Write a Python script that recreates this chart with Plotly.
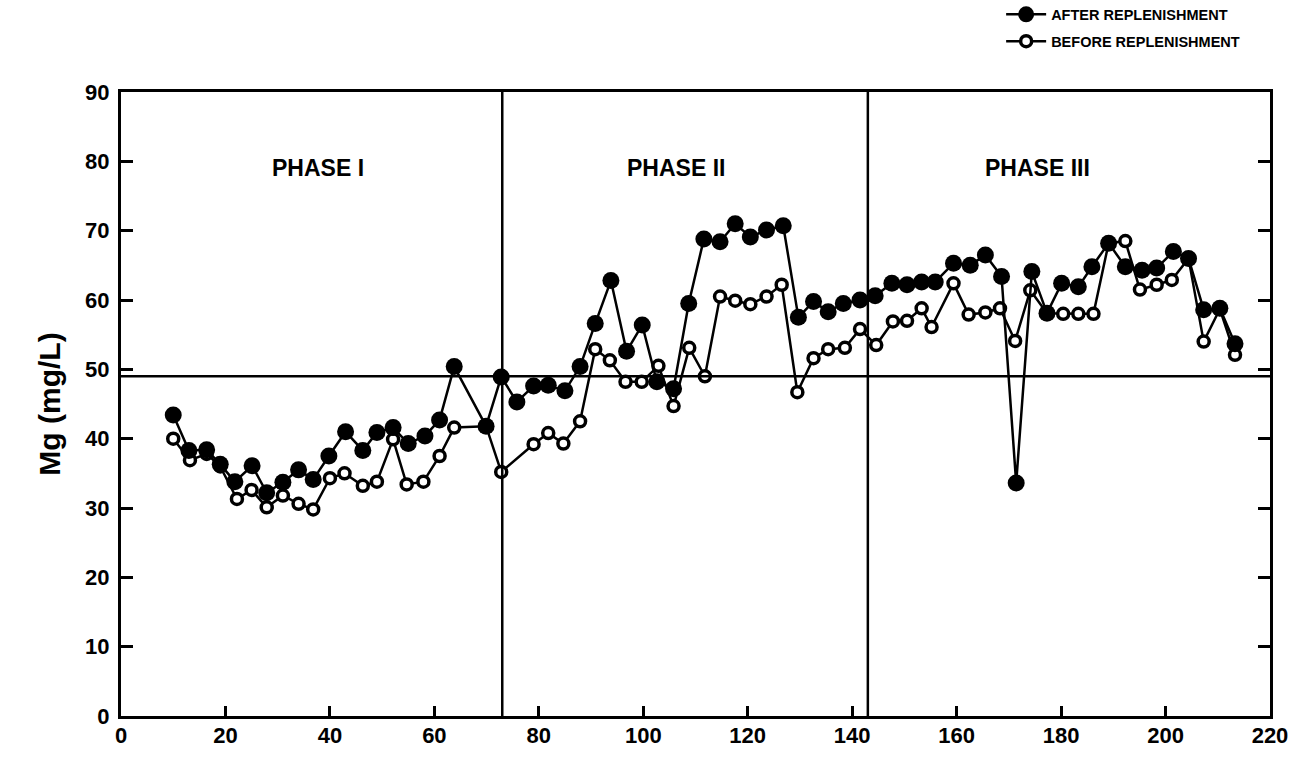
import plotly.graph_objects as go

# ---- data ----
after_x = [10, 13, 16.4, 19, 21.8, 25.1, 27.9, 31, 34, 36.8, 39.8, 43, 46.3, 49, 52.1, 55, 58.2, 61, 63.8,
           69.9, 72.8, 75.8, 79, 81.8, 85, 87.9, 90.8, 93.8, 96.8, 99.8, 102.6, 105.8, 108.7, 111.6, 114.7,
           117.6, 120.5, 123.6, 126.8, 129.7, 132.6, 135.4, 138.3, 141.5, 144.4, 147.6, 150.5, 153.3, 155.9,
           159.4, 162.6, 165.5, 168.6, 171.4, 174.4, 177.3, 180.1, 183.3, 185.9, 189.1, 192.3, 195.5, 198.3,
           201.5, 204.4, 207.3, 210.4, 213.3]
after_y = [43.4, 38.3, 38.4, 36.3, 33.8, 36.1, 32.2, 33.7, 35.5, 34.1, 37.5, 41, 38.3, 40.9, 41.6, 39.3, 40.4, 42.7, 50.4,
           41.8, 48.9, 45.3, 47.6, 47.7, 46.9, 50.4, 56.6, 62.8, 52.6, 56.4, 48.2, 47.2, 59.5, 68.8, 68.4,
           71, 69.1, 70.1, 70.7, 57.5, 59.8, 58.3, 59.5, 60, 60.6, 62.4, 62.2, 62.6, 62.6,
           65.3, 65, 66.5, 63.4, 33.6, 64.1, 58.1, 62.4, 61.9, 64.8, 68.2, 64.8, 64.3, 64.6,
           67, 66, 58.6, 58.8, 53.7]

before_x = [10, 13.2, 16.4, 19, 22.2, 25, 27.9, 31, 34, 36.8, 40, 42.8, 46.3, 49, 52.1, 54.7, 57.9, 61, 63.8,
            69.9, 72.8, 79, 81.8, 84.7, 87.9, 90.8, 93.6, 96.6, 99.7, 102.9, 105.8, 108.8, 111.8, 114.7,
            117.6, 120.5, 123.6, 126.5, 129.5, 132.6, 135.4, 138.6, 141.5, 144.6, 147.8, 150.5, 153.3, 155.2,
            159.4, 162.3, 165.5, 168.3, 171.2, 174.1, 177.3, 180.4, 183.3, 186.2, 189.1, 192.3, 195.1, 198.3,
            201.2, 204.4, 207.3, 210.4, 213.3]
before_y = [40, 36.9, 37.8, 36, 31.3, 32.6, 30.1, 31.8, 30.6, 29.8, 34.3, 35, 33.2, 33.8, 39.9, 33.4, 33.8, 37.5, 41.6,
            41.8, 35.2, 39.2, 40.8, 39.3, 42.5, 52.9, 51.3, 48.2, 48.2, 50.5, 44.7, 53.1, 49, 60.5,
            59.9, 59.4, 60.5, 62.2, 46.7, 51.6, 52.9, 53.1, 55.8, 53.5, 56.9, 57, 58.8, 56.1,
            62.4, 57.9, 58.2, 58.8, 54.1, 61.4, 58.1, 58, 58, 58, 68.2, 68.5, 61.5, 62.2,
            62.9, 66, 54, 58.7, 52.1]

phase_bounds = [73, 143]
reference_level = 49
phase_labels = ["PHASE I", "PHASE II", "PHASE III"]
phase_label_x = [37.7, 106.3, 175.4]
phase_label_y = 79
x_ticks = list(range(0, 221, 20))
y_ticks = list(range(0, 91, 10))

FONT = "Liberation Sans"

fig = go.Figure()
fig.add_trace(go.Scatter(
    x=before_x, y=before_y, mode="lines+markers", name="BEFORE REPLENISHMENT",
    legendrank=2, legendgroup="b",
    line=dict(color="black", width=2.5),
    marker=dict(symbol="circle", size=11, color="white", line=dict(color="black", width=3.5)),
))
fig.add_trace(go.Scatter(
    x=after_x, y=after_y, mode="lines+markers", name="AFTER REPLENISHMENT",
    legendrank=1, legendgroup="a",
    line=dict(color="black", width=2.5),
    marker=dict(symbol="circle", size=17, color="black"),
))

for xb in phase_bounds:
    fig.add_shape(type="line", x0=xb, x1=xb, y0=0, y1=90, xref="x", yref="y",
                  line=dict(color="black", width=2.5))
fig.add_shape(type="line", x0=0, x1=220, y0=reference_level, y1=reference_level, xref="x", yref="y",
              line=dict(color="black", width=2.5))

for lab, lx in zip(phase_labels, phase_label_x):
    fig.add_annotation(x=lx, y=phase_label_y, text=lab, showarrow=False,
                       font=dict(family=FONT, size=23, color="black", weight="bold"))

fig.update_layout(
    width=1307, height=757,
    margin=dict(l=121, r=37, t=92, b=41, autoexpand=False),
    paper_bgcolor="white", plot_bgcolor="white",
    showlegend=True,
    legend=dict(x=0.766, y=1.15, xanchor="left", yanchor="top",
                font=dict(family=FONT, size=14.5, color="black", weight="bold"),
                itemwidth=40, bgcolor="rgba(0,0,0,0)", tracegroupgap=5),
    font=dict(family=FONT, color="black"),
)
fig.update_xaxes(range=[0, 220], tickvals=x_ticks, ticktext=[str(v) for v in x_ticks],
                 ticks="inside", ticklen=10, tickwidth=2.5, tickcolor="black",
                 showline=True, linecolor="black", linewidth=3, mirror=True,
                 showgrid=False, zeroline=False, ticklabelstandoff=-2,
                 tickfont=dict(family=FONT, size=22, color="black", weight="bold"))
fig.update_yaxes(range=[0, 90], tickvals=y_ticks, ticktext=[str(v) for v in y_ticks],
                 ticks="inside", ticklen=12, tickwidth=2.5, tickcolor="black",
                 showline=True, linecolor="black", linewidth=3, mirror="ticks",
                 showgrid=False, zeroline=False, ticklabelstandoff=4,
                 tickfont=dict(family=FONT, size=22, color="black", weight="bold"),
                 title=dict(text="Mg (mg/L)", standoff=16,
                            font=dict(family=FONT, size=30, color="black", weight="bold")))

fig.write_html("out.html")
